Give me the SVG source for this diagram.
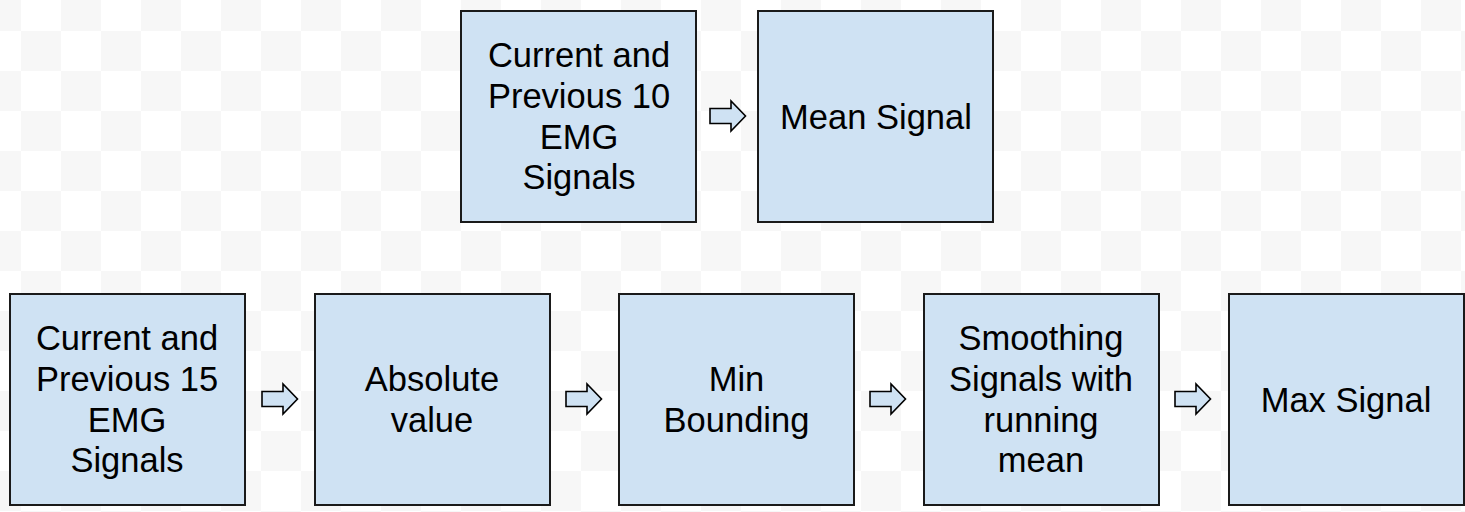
<svg xmlns="http://www.w3.org/2000/svg" xmlns:xlink="http://www.w3.org/1999/xlink" width="1465" height="512" viewBox="0 0 1465 512">
<style>
.box{fill:#cfe2f3;stroke:#1a1a1a;stroke-width:2}
.lbl{font-family:"Liberation Sans",Arial,sans-serif;font-size:34.5px;fill:#000;text-anchor:middle}
.arr{fill:#cfe2f3;stroke:#000;stroke-width:1.6;stroke-linejoin:miter}
</style>
<defs>
<pattern id="chk" x="21" y="31" width="80" height="80" patternUnits="userSpaceOnUse">
<rect width="80" height="80" fill="#ffffff"/>
<rect width="40" height="40" fill="#f7f7f7"/>
<rect x="40" y="40" width="40" height="40" fill="#f7f7f7"/>
</pattern>
<path id="arrow" class="arr" d="M0,-7.5 H21 V-15 L35.5,0 L21,15 V7.5 H0 Z"/>
</defs>
<rect width="1465" height="512" fill="url(#chk)"/>
<g id="connectors">
<use xlink:href="#arrow" href="#arrow" transform="translate(710,116)"/>
<use xlink:href="#arrow" href="#arrow" transform="translate(262,399)"/>
<use xlink:href="#arrow" href="#arrow" transform="translate(566,399)"/>
<use xlink:href="#arrow" href="#arrow" transform="translate(870,399)"/>
<use xlink:href="#arrow" href="#arrow" transform="translate(1175,399)"/>
</g>
<g id="n_prev10">
<rect class="box" x="461" y="11" width="235" height="211"/>
<text class="lbl" x="579" y="67">Current and</text>
<text class="lbl" x="579" y="108">Previous 10</text>
<text class="lbl" x="579" y="148.5">EMG</text>
<text class="lbl" x="579" y="189">Signals</text>
</g>
<g id="n_mean">
<rect class="box" x="758" y="11" width="235" height="211"/>
<text class="lbl" x="876" y="129.3">Mean Signal</text>
</g>
<g id="n_prev15">
<rect class="box" x="10" y="294" width="235" height="211"/>
<text class="lbl" x="127" y="350">Current and</text>
<text class="lbl" x="127" y="391">Previous 15</text>
<text class="lbl" x="127" y="431.5">EMG</text>
<text class="lbl" x="127" y="472">Signals</text>
</g>
<g id="n_abs">
<rect class="box" x="315" y="294" width="235" height="211"/>
<text class="lbl" x="432" y="391">Absolute</text>
<text class="lbl" x="432" y="431.5">value</text>
</g>
<g id="n_min">
<rect class="box" x="619" y="294" width="235" height="211"/>
<text class="lbl" x="736.5" y="391">Min</text>
<text class="lbl" x="736.5" y="431.5">Bounding</text>
</g>
<g id="n_smooth">
<rect class="box" x="924" y="294" width="235" height="211"/>
<text class="lbl" x="1041" y="350">Smoothing</text>
<text class="lbl" x="1041" y="391">Signals with</text>
<text class="lbl" x="1041" y="431.5">running</text>
<text class="lbl" x="1041" y="472">mean</text>
</g>
<g id="n_max">
<rect class="box" x="1229" y="294" width="235" height="211"/>
<text class="lbl" x="1346" y="412.3">Max Signal</text>
</g>
</svg>
